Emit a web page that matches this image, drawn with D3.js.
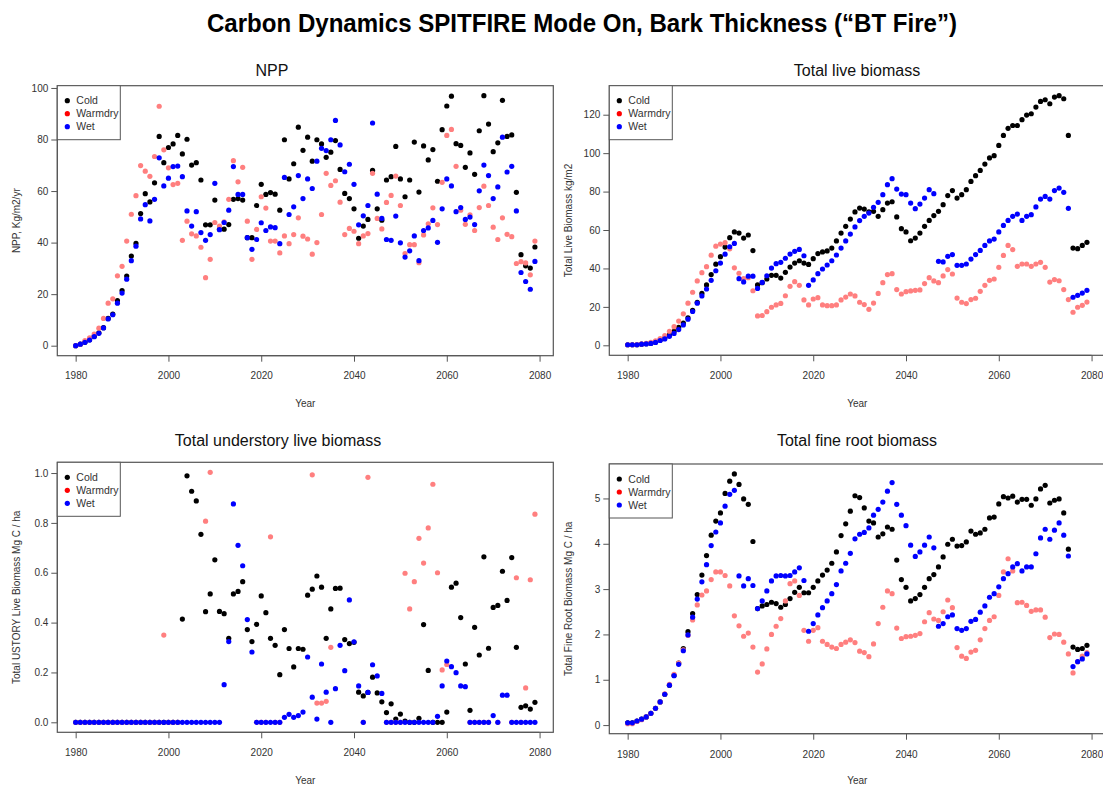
<!DOCTYPE html>
<html><head><meta charset="utf-8">
<script src="https://cdn.jsdelivr.net/npm/d3@7"></script>
<style>body{margin:0;background:#fff} svg{display:block;font-family:"Liberation Sans",Arial,sans-serif}</style>
</head><body><svg id="c" width="1103" height="787"></svg>
<script>
const years = d3.range(1980, 2080);
const seriesNames = ["Cold", "Warmdry", "Wet"];
const xTicks = [1980, 2000, 2020, 2040, 2060, 2080];
const mainTitle = "Carbon Dynamics SPITFIRE Mode On, Bark Thickness (\u201CBT Fire\u201D)";
const panelTitles = ["NPP", "Total live biomass", "Total understory live biomass", "Total fine root biomass"];
const yLabels = ["NPP, Kg/m2/yr", "Total Live Biomass kg/m2", "Total USTORY Live Biomass Mg C / ha", "Total Fine Root Biomass Mg C / ha"];
const yTicksNpp = [0, 20, 40, 60, 80, 100];
const yTicksLive = [0, 20, 40, 60, 80, 100, 120];
const yTicksUstory = [0, 0.2, 0.4, 0.6, 0.8, 1.0];
const yTicksRoot = [0, 1, 2, 3, 4, 5];

const nppCold = [0,0.6,1.3,2.3,3.7,5.0,7.0,10.6,12.3,17.5, 21.4,27,34.8,39.7,51.3,59,55.8,63.2,81.2,71,
 76.9,78.3,81.6,74.4,80.1,70.1,71,64.3,46.9,46.9, 56.5,45.2,45.2,47,56.8,57.1,56.5,41.9,41.9,54.4,
 62.6,58.7,59.4,58.8,52.6,79.9,64.7,70.6,84.8,75.8, 80.9,71.6,79.9,78.3,73.1,75.1,79.6,68.4,59.1,57.1,
 53.1,41.7,46.4,49,68,53.1,48.7,64.3,65.6,77.3, 64.7,57.8,64.3,79,59.6,77.5,72.1,76.1,63.8,83.8,
 93,96.8,78.4,77.7,69.2,74.8,66.5,83.4,97,86, 75.3,78.7,95.2,81.2,81.8,59.5,35.3,31,30.1,38.3];
const nppWarmdry = [0,0.6,2,3,4.5,6.8,10.6,16.5,18.2,27.1, 30.8,40.6,51,58.2,69.9,67.7,65.7,73.4,92.9,76,
 69,62.5,63,40.9,48.3,43.4,42.6,38.2,26.4,33.5, 47.8,46.4,48.1,56.8,71.8,63.6,69.2,48.3,33.5,45.1,
 57.8,53.4,40.6,40.6,36,42.6,39.6,43.1,49.6,42.5, 41.4,35.5,40,50.9,66.9,62.2,64,55.7,43.1,45.5,
 44.4,39.6,42.6,43.5,66.9,49.4,45.3,55.6,58.3,65.8, 54.4,35.7,39.2,39.2,32.2,43,47.3,53.5,47,63.4,
 81.6,83.9,69.6,52.6,47.1,50.8,44.7,53.6,61.9,54.4, 46,41.2,49.6,43.2,42.3,31.9,32.6,32.1,27.5,40.6];
const nppWet = [0,0.6,1.3,2.2,3.5,4.8,6.9,10.4,12,16.5, 20.4,25.8,33,38.6,49.2,54.7,48.4,56.8,72.9,62,
 65,69.5,69.7,65.6,52.3,46.4,52,43.9,40.9,43.1, 63,45,47.8,52.6,69.5,58.7,58.7,41.9,37.4,41.2,
 47.7,44.7,46.1,45.8,39.6,65.3,50.9,53.9,66,57.1, 64.7,61,71.6,76.6,75.7,79.9,87.4,77.9,67.5,70.4,
 62.6,46.9,50.4,54.4,86.4,58.8,49.4,41.2,40.9,50.3, 39.9,34.4,36.8,42.6,33,44.7,45.7,48.6,40.1,53.1,
 64.7,62,52,53.6,49,49.9,47,60.1,70.1,66, 57.1,61.6,80.9,67.4,69.6,52.3,28.4,24.9,21.9,32.7];

const liveCold = [0.3,0.3,0.3,0.6,0.8,1.1,1.6,2.8,3.8,5.5, 7.3,9.3,11.6,14.3,18.2,22.4,27,31.4,36.8,42.2,
 46.1,51.1,56,59,58.4,55.8,57.4,49.3,31.4,32.6, 34.5,36.4,36.4,35,38,40.7,42.8,44,42.8,42.1,
 45.1,47.7,48.6,49.1,50.6,54.3,58.4,61.9,65.7,69.4, 71.4,70.9,69.4,69.7,67.1,70.6,74,74.7,66.8,60.7,
 59,54.4,55.8,58.4,61.9,65,67.5,69.7,73.2,77.9, 80.5,76.6,78.4,81,85.3,88.3,91,94.3,97.5,98.7,
 104,109.2,112.9,114.4,114.4,117.4,119.8,120.5,124,126.9, 127.8,125.7,129.2,129.9,128.3,109.2,50.6,50.3,52,53.6];
const liveWarmdry = [0.3,0.3,0.4,0.7,1,1.6,2.3,3.5,5,7.3, 9.7,12.6,16.4,21.9,27.6,33.5,37.8,40.9,46.9,51.6,
 52.7,53.4,50.2,40.3,37.5,34.7,35.2,28.4,15.3,15.5, 17.5,19.8,21,21.8,25.8,30.7,33.1,31.2,23.6,21,
 24.1,24.8,21,20.6,20.6,21,23.6,25.1,26.7,25.7, 22.4,21.2,18.7,22,27,32.6,36.8,37.3,29,26.7,
 27.9,28.3,28.6,28.8,32.1,35.2,33.5,32.6,36.1,39.4, 37.1,24.6,22.4,21.7,23.8,24.5,28.1,31.2,33.8,34.5,
 40.6,46.8,52,49.8,41.1,42.3,42.3,41.1,42.3,43.2, 40.6,32.9,34.2,33.6,29,23.8,17.2,19.8,20.8,22.5];
const liveWet = [0.3,0.3,0.3,0.6,0.7,1.0,1.5,2.5,3.3,4.7, 6.2,8.2,10.6,13.6,17.6,21.9,25.7,29.3,33.8,38.8,
 42.8,47.4,51.3,53,34.7,33,36,36,29.6,32.7, 36.2,40.2,42.5,43.2,45.3,47.5,48.9,49.9,46.6,31.2,
 34,37.3,39.7,41.8,44,47,50.6,54.3,57.9,61.6, 64.9,67.1,68.8,71.8,74.4,78.4,83.6,86.7,81.3,78.7,
 78.4,74,71.1,73.5,76.6,81,78.9,43.7,43.4,46.3, 47.2,41.6,41.6,42.3,44.9,47.2,49.4,52,54.3,55.3,
 59,62.4,65,67.1,68.3,65,67.1,68,72,76.1, 77.5,76.1,80.5,81.8,79.6,71.3,25,26,27.2,28.6];

// null = point not visible in the chart (outside the plotted 0-1 range)
const ustoryCold = [0,0,0,0,0,0,0,0,0,0, 0,0,0,0,0,0,0,0,0,0,
 0,0,0,0.414,0.989,0.927,0.888,0.754,0.444,0.515, 0.652,0.445,0.436,0.337,0.515,0.525,0.564,0.372,0.324,0.393,
 0.507,0.44,0.337,0.309,0.191,0.372,0.296,0.222,0.296,0.293, 0.51,0.534,0.587,0.542,0.337,0.455,0.537,0.538,0.332,0.316,
 0.321,0.121,0.106,0.12,0.181,0.118,0.082,0.039,0.074,0.013, 0.033,0.005,0,0,0.016,0.392,0.208,0,0,0,
 0.041,0.542,0.558,0.42,0.234,0.048,0.381,0.27,0.664,0.297, 0.461,0.469,0.606,0.489,0.661,0.301,0.06,0.066,0.053,0.08];
const ustoryWarmdry = [0,0,0,0,0,0,0,0,0,0, 0,0,0,0,0,0,0,0,0,0.35,
 0,0,0,null,null,null,null,null,0.807,1.003, null,null,null,null,null,null,null,null,null,0,
 0,0,0.744,0,0,null,null,null,null,null, null,0.993,0.077,0.077,0.084,0.301,null,null,null,null,
 null,null,0,0.983,null,null,null,0,0,0, 0,0.598,0.455,0.564,0.738,0.639,0.78,0.955,0.6,0.21,
 0.232,null,null,null,null,0,0,0,0,0, null,0,null,null,0,0.58,0,0.138,0.572,0.835];
const ustoryWet = [0,0,0,0,0,0,0,0,0,0, 0,0,0,0,0,0,0,0,0,0,
 0,0,0,0,0,0,0,0,0,0, 0,0,0.151,0.324,0.876,0.71,0.628,0.412,0.282,0,
 0,0,0,0,0,0.02,0.032,0.02,0.027,0.041, 0.262,0.101,0.013,0.234,0.121,0,0.135,0.309,0.207,0.491,
 0.323,0.146,0,0.12,0.231,0.186,0.116,0,0,0, 0,0,0,0,0,0,0,0,0.024,0.146,
 0.246,0.223,0.199,0.146,0.143,0,0,0,0,0, 0.027,0,0.109,0.109,0,0,0,0,0,0];

const rootCold = [0.05,0.05,0.09,0.13,0.18,0.26,0.37,0.51,0.68,0.88, 1.10,1.37,1.69,2.06,2.46,2.88,3.31,3.74,4.19,4.5,
 4.68,5.11,5.38,5.54,5.31,4.99,4.87,4.05,2.57,2.63, 2.66,2.71,2.68,2.6,2.66,2.79,2.93,3.04,2.92,2.92,
 3.04,3.18,3.31,3.42,3.57,3.82,4.18,4.44,4.72,5.06, 5.02,4.79,4.5,4.46,4.15,4.22,4.37,4.32,3.64,3.21,
 3.04,2.74,2.79,2.88,3.04,3.23,3.32,3.49,3.71,3.99, 4.1,3.95,3.96,4.04,4.28,4.21,4.24,4.32,4.57,4.59,
 4.88,5.04,5.01,5.05,4.92,4.98,4.98,4.85,4.99,5.21, 5.29,4.9,4.96,4.99,4.68,3.88,1.72,1.67,1.69,1.76];
const rootWarmdry = [0.03,0.03,0.08,0.12,0.18,0.26,0.37,0.51,0.69,0.9, 1.12,1.37,1.66,1.98,2.32,2.65,2.87,2.96,3.21,3.38,
 3.38,3.3,3.07,2.41,2.19,1.96,2.03,1.72,1.17,1.35, 1.68,2.0,2.18,2.35,2.74,3.12,3.18,2.86,2.09,1.85,
 2.09,2.15,1.85,1.78,1.72,1.69,1.78,1.83,1.88,1.82, 1.63,1.6,1.51,1.79,2.24,2.6,2.96,2.9,2.14,1.91,
 1.95,1.96,1.98,2.02,2.28,2.48,2.34,2.31,2.5,2.76, 2.59,1.71,1.52,1.47,1.61,1.65,1.88,2.13,2.31,2.39,
 2.86,3.38,3.67,3.4,2.7,2.71,2.64,2.51,2.54,2.54, 2.38,1.93,2.01,2.0,1.83,1.57,1.15,1.4,1.52,1.6];
const rootWet = [0.05,0.05,0.09,0.13,0.18,0.26,0.37,0.51,0.68,0.88, 1.09,1.34,1.64,1.99,2.38,2.78,3.16,3.54,3.96,4.26,
 4.46,4.83,5.09,5.18,3.29,3.07,3.23,3.08,2.57,2.74, 2.96,3.18,3.29,3.3,3.29,3.3,3.38,3.47,3.19,2.07,
 2.24,2.43,2.59,2.74,2.9,3.1,3.4,3.57,3.79,4.11, 4.21,4.25,4.35,4.63,4.76,4.92,5.16,5.35,4.87,4.63,
 4.4,3.97,3.72,3.82,3.97,4.15,3.91,2.18,2.24,2.39, 2.43,2.13,2.09,2.13,2.29,2.33,2.49,2.63,2.82,2.9,
 3.05,3.23,3.34,3.49,3.56,3.4,3.49,3.49,3.78,4.13, 4.32,4.1,4.3,4.46,4.19,3.73,1.29,1.4,1.46,1.57];

const pointColors = ["#000000", "#ff7f7f", "#0000ff"];
const legendColors = ["#000000", "#ff0000", "#0000ff"];
const axisColor = "#555";
const textColor = "#333";

const panels = [
  {title: panelTitles[0], ylab: yLabels[0], data: [nppCold, nppWarmdry, nppWet], ticks: yTicksNpp, fmt: d3.format("d"),
   box: [57.3, 553.3, 85.7, 355.7], dom: [-3.88, 100.88], ylabX: 20, titleX: 272, titleY: 76, xlabY: 407, tickY: 379.5},
  {title: panelTitles[1], ylab: yLabels[1], data: [liveCold, liveWarmdry, liveWet], ticks: yTicksLive, fmt: d3.format("d"),
   box: [609.3, 1105.3, 85.7, 355.3], dom: [-5.2, 135.1], ylabX: 572, titleX: 857, titleY: 76, xlabY: 407, tickY: 379.5},
  {title: panelTitles[2], ylab: yLabels[2], data: [ustoryCold, ustoryWarmdry, ustoryWet], ticks: yTicksUstory, fmt: d3.format(".1f"),
   box: [57.3, 553.3, 462.3, 732.3], dom: [-0.0401, 1.0431], ylabX: 20, titleX: 278, titleY: 446, xlabY: 784, tickY: 756.5},
  {title: panelTitles[3], ylab: yLabels[3], data: [rootCold, rootWarmdry, rootWet], ticks: yTicksRoot, fmt: d3.format("d"),
   box: [609.3, 1105.3, 464, 733.7], dom: [-0.19, 5.76], ylabX: 572, titleX: 857, titleY: 446, xlabY: 784, tickY: 758}
];

const svg = d3.select("#c");
svg.append("rect").attr("width", 1103).attr("height", 787).attr("fill", "#fff");

svg.append("text").attr("x", 582).attr("y", 32).attr("text-anchor", "middle")
  .attr("font-family", "'Liberation Sans Narrow','Arial Narrow','Liberation Sans',sans-serif")
  .attr("font-weight", "bold").attr("font-size", 26).attr("fill", "#000")
  .attr("textLength", 750).attr("lengthAdjust", "spacingAndGlyphs")
  .text(mainTitle);

panels.forEach(p => {
  const [x0, x1, y0, y1] = p.box;
  const x = d3.scaleLinear().domain([1976.04, 2082.96]).range([x0, x1]);
  const y = d3.scaleLinear().domain(p.dom).range([y1, y0]);
  const g = svg.append("g");

  p.data.forEach((arr, si) => {
    const pts = arr.map((v, i) => ({v, yr: years[i]})).filter(d => d.v !== null);
    g.append("g").selectAll("circle").data(pts).join("circle")
      .attr("cx", d => x(d.yr)).attr("cy", d => y(d.v))
      .attr("r", 2.6).attr("fill", pointColors[si]);
  });

  g.append("rect").attr("x", x0).attr("y", y0).attr("width", x1 - x0).attr("height", y1 - y0)
    .attr("fill", "none").attr("stroke", axisColor).attr("stroke-width", 1.2);

  const xa = g.append("g").attr("transform", `translate(0,${y1})`)
    .call(d3.axisBottom(x).tickValues(xTicks).tickSize(6).tickSizeOuter(0).tickPadding(3).tickFormat(d3.format("d")));
  xa.select(".domain").attr("stroke", axisColor).attr("d", `M${x(xTicks[0])},0H${x(xTicks[xTicks.length-1])}`);
  xa.selectAll(".tick line").attr("stroke", axisColor);
  xa.selectAll("text").attr("font-size", 10).attr("fill", textColor).attr("font-family", "'Liberation Sans',Arial,sans-serif")
    .attr("y", p.tickY - y1).attr("dy", null);

  const ya = g.append("g").attr("transform", `translate(${x0},0)`)
    .call(d3.axisLeft(y).tickValues(p.ticks).tickSize(6).tickSizeOuter(0).tickPadding(3).tickFormat(p.fmt));
  ya.select(".domain").attr("stroke", axisColor).attr("d", `M0,${y(p.ticks[0])}V${y(p.ticks[p.ticks.length-1])}`);
  ya.selectAll(".tick line").attr("stroke", axisColor);
  ya.selectAll("text").attr("font-size", 10).attr("fill", textColor).attr("font-family", "'Liberation Sans',Arial,sans-serif");

  g.append("text").attr("x", p.titleX).attr("y", p.titleY).attr("text-anchor", "middle")
    .attr("font-size", 16).attr("fill", "#111").text(p.title);
  g.append("text").attr("x", (x0 + x1) / 2).attr("y", p.xlabY).attr("text-anchor", "middle")
    .attr("font-size", 10).attr("fill", textColor).text("Year");
  g.append("text").attr("transform", `translate(${p.ylabX},${(y0 + y1) / 2}) rotate(-90)`).attr("text-anchor", "middle")
    .attr("font-size", 10).attr("fill", textColor).text(p.ylab);

  const lg = g.append("g").attr("transform", `translate(${x0},${y0})`);
  lg.append("rect").attr("x", 0).attr("y", 0).attr("width", 63).attr("height", 54)
    .attr("fill", "#fff").attr("stroke", axisColor).attr("stroke-width", 1);
  seriesNames.forEach((n, i) => {
    lg.append("circle").attr("cx", 10).attr("cy", 15 + i * 13).attr("r", 2.6).attr("fill", legendColors[i]);
    lg.append("text").attr("x", 19).attr("y", 15 + i * 13).attr("dy", "0.35em")
      .attr("font-size", 10.5).attr("fill", textColor).text(n);
  });
});
</script></body></html>
